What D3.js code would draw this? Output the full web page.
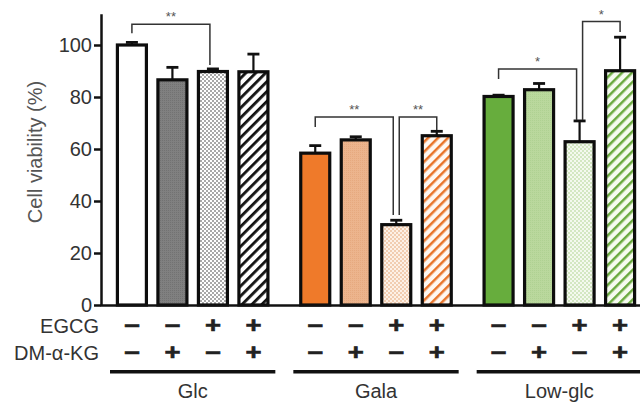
<!DOCTYPE html>
<html><head><meta charset="utf-8">
<script src="https://cdn.jsdelivr.net/npm/d3@7"></script>
<style>body{margin:0;background:#fff}svg{display:block;font-family:Arial,"Liberation Sans",sans-serif}</style>
</head><body><svg id="c" width="640" height="403"></svg>
<script>
const groups = ["Glc", "Gala", "Low-glc"];
const egcg = ["−", "−", "+", "+"];
const dmakg = ["−", "+", "−", "+"];
const valsGlc = [100, 86.6, 89.8, 89.7];
const valsGala = [58.4, 63.5, 30.9, 65.1];
const valsLow = [80.2, 82.8, 62.8, 90.1];
const errGlc = [1.0, 4.8, 1.0, 6.8];
const errGala = [2.9, 1.2, 1.7, 1.7];
const errLow = [0.5, 2.4, 8.0, 12.9];
const yTicks = [0, 20, 40, 60, 80, 100];
// significance brackets: [group, fromBar, toBar, topValue, leftEnd, rightEnd, label]
const brackets = [
  ["Glc", 0, 2, 108, 104.5, 92.3, "**"],
  ["Gala", 0, 2, 72.3, 68.5, 34.6, "**"],
  ["Gala", 2, 3, 72.3, 34.6, 67.3, "**"],
  ["Low-glc", 0, 2, 90.8, 86.9, 71.2, "*"],
  ["Low-glc", 2, 3, 109, 71.2, 105, "*"]
];

const vals = [valsGlc, valsGala, valsLow];
const errs = [errGlc, errGala, errLow];
const palette = [
  {solid: "#ffffff", light: "#808080", tex: "#727272", dotBg: "#ffffff", dotInk: "#a8a8a8", hatch: "#111111", hatchBg: "#ffffff"},
  {solid: "#ef7a2a", light: "#ecb48d", tex: "#e6a97f", dotBg: "#fdf1e7", dotInk: "#f1cdb1", hatch: "#e8742a", hatchBg: "#fff8f2"},
  {solid: "#67ad3d", light: "#bad89d", tex: "#afd192", dotBg: "#f4f9ef", dotInk: "#d3e7c2", hatch: "#6aa93f", hatchBg: "#f6fbf0"}
];

const svg = d3.select("#c");
const defs = svg.append("defs");
palette.forEach((p, i) => {
  const t = defs.append("pattern").attr("id", "tex" + i).attr("patternUnits", "userSpaceOnUse").attr("width", 2).attr("height", 2);
  t.append("rect").attr("width", 2).attr("height", 2).attr("fill", p.light);
  t.append("rect").attr("width", 1).attr("height", 1).attr("fill", p.tex);
  const d = defs.append("pattern").attr("id", "dot" + i).attr("patternUnits", "userSpaceOnUse").attr("width", 4).attr("height", 4);
  d.append("rect").attr("width", 4).attr("height", 4).attr("fill", p.dotBg);
  d.append("rect").attr("width", 2).attr("height", 2).attr("fill", p.dotInk);
  d.append("rect").attr("x", 2).attr("y", 2).attr("width", 2).attr("height", 2).attr("fill", p.dotInk);
  const h = defs.append("pattern").attr("id", "hat" + i).attr("patternUnits", "userSpaceOnUse").attr("width", 7).attr("height", 7).attr("patternTransform", "rotate(45)");
  h.append("rect").attr("width", 7).attr("height", 7).attr("fill", p.hatchBg);
  h.append("rect").attr("width", i === 0 ? 2.8 : 2.5).attr("height", 7).attr("fill", p.hatch);
});
const fills = (gi, bi) => bi === 0 ? palette[gi].solid : bi === 1 ? `url(#tex${gi})` : bi === 2 ? `url(#dot${gi})` : `url(#hat${gi})`;

const y = d3.scaleLinear().domain([0, 112]).range([305, 13.8]);
const xg = d3.scaleBand().domain(groups).range([101, 651]).padding(0);
const xb = d3.scaleBand().domain([0, 1, 2, 3]).range([0, xg.bandwidth()]).paddingInner(0.284).paddingOuter(0.405);
const cx = (g, b) => xg(g) + xb(b) + xb.bandwidth() / 2;

const bars = [];
groups.forEach((g, gi) => vals[gi].forEach((v, bi) => bars.push({g, gi, bi, v, e: errs[gi][bi]})));

// error bars
const eb = svg.append("g").attr("stroke", "#111").attr("fill", "none");
bars.forEach(d => {
  eb.append("line").attr("x1", cx(d.g, d.bi)).attr("x2", cx(d.g, d.bi)).attr("y1", y(d.v)).attr("y2", y(d.v + d.e)).attr("stroke-width", 2.2);
  eb.append("line").attr("x1", cx(d.g, d.bi) - 6).attr("x2", cx(d.g, d.bi) + 6).attr("y1", y(d.v + d.e)).attr("y2", y(d.v + d.e)).attr("stroke-width", 2.8);
});

svg.append("g").selectAll("rect").data(bars).join("rect")
  .attr("x", d => xg(d.g) + xb(d.bi))
  .attr("width", xb.bandwidth())
  .attr("y", d => y(d.v))
  .attr("height", d => y(0) - y(d.v))
  .attr("fill", d => fills(d.gi, d.bi))
  .attr("stroke", "#0d0d0d").attr("stroke-width", 3.2);

// axes
const yAxis = svg.append("g").attr("transform", "translate(101,0)")
  .call(d3.axisLeft(y).tickValues(yTicks).tickSize(7).tickSizeOuter(0).tickPadding(2));
yAxis.select(".domain").attr("stroke", "#111").attr("stroke-width", 2.5);
yAxis.selectAll(".tick line").attr("stroke", "#111").attr("stroke-width", 2.5);
yAxis.selectAll(".tick text").attr("font-size", 20).attr("fill", "#333").attr("font-family", "Arial, 'Liberation Sans', sans-serif");

const xAxis = svg.append("g").attr("transform", "translate(0,305)")
  .call(d3.axisBottom(d3.scaleLinear().domain([0, 1]).range([100, 640])).tickValues([]).tickSizeOuter(0));
xAxis.select(".domain").attr("stroke", "#111").attr("stroke-width", 2.5);

svg.append("text").attr("transform", "translate(42,152) rotate(-90)").attr("text-anchor", "middle")
  .attr("font-size", 20).attr("fill", "#555").text("Cell viability (%)");

// brackets
const br = svg.append("g");
brackets.forEach(b => {
  const x1 = cx(b[0], b[1]) + (b[1] === 2 ? 3 : 0);
  const x2 = cx(b[0], b[2]) - (b[2] === 2 ? 3 : 0);
  br.append("path").attr("fill", "none").attr("stroke", "#333").attr("stroke-width", 1.5)
    .attr("d", `M${x1},${y(b[4])}V${y(b[3])}H${x2}V${y(b[5])}`);
  br.append("text").attr("x", (x1 + x2) / 2).attr("y", y(b[3]) - 3).attr("text-anchor", "middle")
    .attr("font-size", 13).attr("fill", "#555").text(b[6]);
});

// treatment rows
const rowLabel = (txt, yy) => svg.append("text").attr("x", 99).attr("y", yy).attr("text-anchor", "end")
  .attr("font-size", 20).attr("fill", "#333").text(txt);
rowLabel("EGCG", 333);
rowLabel("DM-α-KG", 360);
groups.forEach(g => {
  [egcg, dmakg].forEach((row, ri) => {
    row.forEach((s, bi) => {
      svg.append("text").attr("transform", `translate(${cx(g, bi)},${333 + ri * 27}) scale(1.25,1)`)
        .attr("text-anchor", "middle")
        .attr("font-size", 22).attr("font-weight", "bold").attr("fill", "#222")
        .attr("stroke", "#222").attr("stroke-width", 0.6).text(s);
    });
  });
  svg.append("line").attr("x1", xg(g) + 9).attr("x2", xg(g) + xg.bandwidth() - 9)
    .attr("y1", 371.7).attr("y2", 371.7).attr("stroke", "#111").attr("stroke-width", 3.5);
  svg.append("text").attr("x", xg(g) + xg.bandwidth() / 2).attr("y", 398).attr("text-anchor", "middle")
    .attr("font-size", 20).attr("fill", "#333").text(g);
});
</script></body></html>
